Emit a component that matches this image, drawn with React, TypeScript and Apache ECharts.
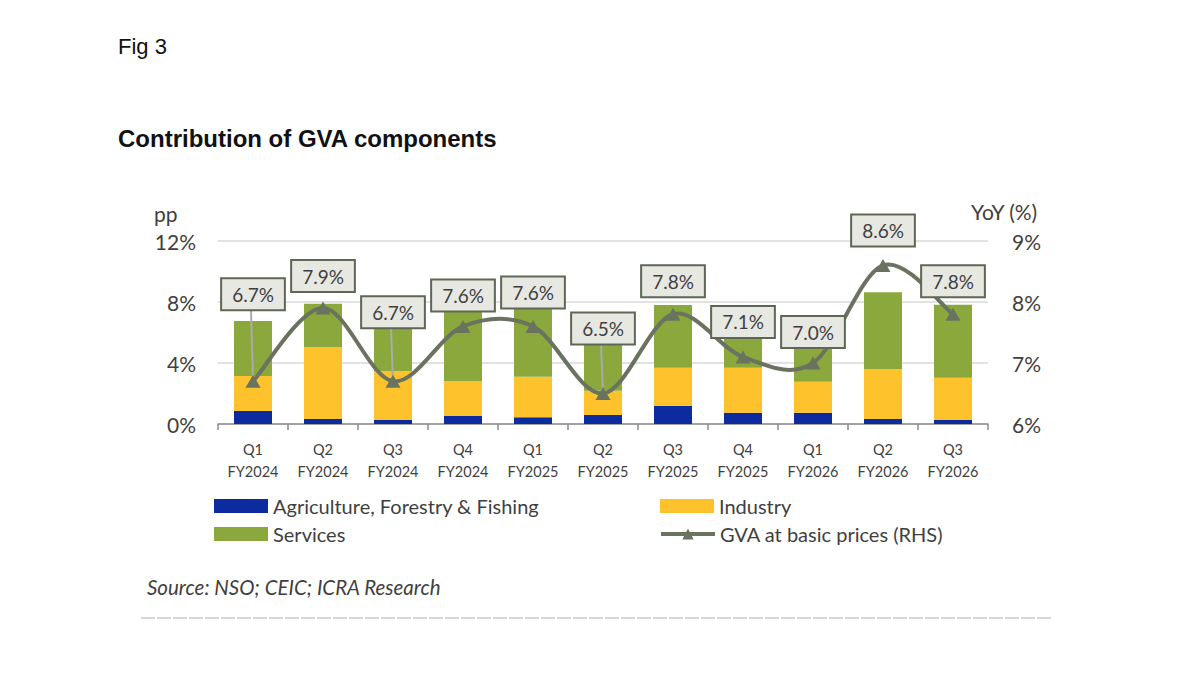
import React, { useEffect, useRef } from "react";
import * as echarts from "echarts";

// Quarters on the category axis
const categories = [
  "Q1\nFY2024", "Q2\nFY2024", "Q3\nFY2024", "Q4\nFY2024",
  "Q1\nFY2025", "Q2\nFY2025", "Q3\nFY2025", "Q4\nFY2025",
  "Q1\nFY2026", "Q2\nFY2026", "Q3\nFY2026",
];

// Contributions to GVA growth, percentage points
const agriculture = [0.85, 0.33, 0.26, 0.52, 0.44, 0.59, 1.2, 0.74, 0.74, 0.33, 0.26];
const industry = [2.3, 4.7, 3.22, 2.3, 2.66, 1.59, 2.49, 2.95, 2.03, 3.27, 2.78];
const services = [3.6, 2.86, 3.22, 4.78, 4.5, 4.32, 4.11, 3.41, 4.23, 5.04, 4.78];

// GVA at basic prices, YoY growth (%), right-hand axis
const gva = [6.7, 7.9, 6.7, 7.6, 7.6, 6.5, 7.8, 7.1, 7.0, 8.6, 7.8];

// Axis ticks
const leftTicks = { min: 0, max: 12, interval: 4 };
const rightTicks = { min: 6, max: 9, interval: 1 };

// How far each value callout sits above its point (px)
const calloutLift = [87, 32, 69, 31, 34, 65, 33, 35, 31, 35, 33];
const calloutHalfHeight = 16;

const SERIES_NAMES = {
  agri: "Agriculture, Forestry & Fishing",
  ind: "Industry",
  serv: "Services",
  gva: "GVA at basic prices (RHS)",
};

const COLORS = {
  agri: "#0b2b9e",
  ind: "#fec22c",
  serv: "#8aa83b",
  line: "#69735f",
  text: "#3f3f3f",
  grid: "#d9d9d9",
  axis: "#8c8c8c",
};

const CAL = "Lato, 'Noto Sans', sans-serif";
const ARIAL = "'Liberation Sans', Arial, sans-serif";

export default function App() {
  const ref = useRef<HTMLDivElement>(null);

  useEffect(() => {
    if (!ref.current) return;
    const chart = echarts.init(ref.current, undefined, { renderer: "svg" });

    const legendBase = {
      orient: "horizontal" as const,
      padding: 0,
      itemWidth: 54,
      itemHeight: 14,
      itemGap: 0,
      selectedMode: false,
      textStyle: { fontFamily: CAL, fontSize: 20, color: COLORS.text },
    };

    const n = gva.length;

    const option: any = {
      animation: false,
      backgroundColor: "#ffffff",
      title: [
        {
          text: "Fig 3",
          left: 113,
          top: 30,
          textStyle: { fontFamily: ARIAL, fontSize: 22, fontWeight: "normal", color: "#111111" },
        },
        {
          text: "Contribution of GVA components",
          left: 113,
          top: 121,
          textStyle: { fontFamily: ARIAL, fontSize: 24, fontWeight: "bold", color: "#111111" },
        },
      ],
      legend: [
        { ...legendBase, icon: "rect", data: [SERIES_NAMES.agri], left: 214, top: 496 },
        { ...legendBase, icon: "rect", data: [SERIES_NAMES.ind], left: 660, top: 496 },
        { ...legendBase, icon: "rect", data: [SERIES_NAMES.serv], left: 214, top: 524 },
        {
          ...legendBase,
          data: [
            {
              name: SERIES_NAMES.gva,
              lineStyle: { color: COLORS.line, width: 4, opacity: 1 },
              itemStyle: { color: COLORS.line },
            },
          ],
          left: 659,
          top: 524,
        },
      ],
      grid: { left: 218, right: 212, top: 241, bottom: 251, containLabel: false },
      xAxis: {
        type: "category",
        data: categories,
        boundaryGap: true,
        axisLine: { lineStyle: { color: COLORS.axis, width: 1.5 } },
        axisTick: { show: true, length: 6, lineStyle: { color: COLORS.axis, width: 1.5 } },
        axisLabel: {
          interval: 0,
          margin: 14,
          fontFamily: CAL,
          fontSize: 14.5,
          lineHeight: 22,
          color: COLORS.text,
        },
      },
      yAxis: [
        {
          type: "value",
          ...leftTicks,
          axisLine: { show: false },
          axisTick: { show: false },
          splitLine: { lineStyle: { color: COLORS.grid, width: 1.5 } },
          axisLabel: {
            formatter: "{value}%",
            margin: 22,
            fontFamily: CAL,
            fontSize: 21,
            color: COLORS.text,
          },
        },
        {
          type: "value",
          ...rightTicks,
          position: "right",
          axisLine: { show: false },
          axisTick: { show: false },
          splitLine: { show: false },
          axisLabel: {
            formatter: "{value}%",
            margin: 24,
            fontFamily: CAL,
            fontSize: 21,
            color: COLORS.text,
          },
        },
      ],
      graphic: [
        {
          type: "text",
          left: 154,
          top: 203,
          style: { text: "pp", fontFamily: CAL, fontSize: 21, fill: COLORS.text },
        },
        {
          type: "text",
          right: 162,
          top: 201,
          style: { text: "YoY (%)", fontFamily: CAL, fontSize: 21, fill: COLORS.text },
        },
        {
          type: "text",
          left: 147,
          top: 577,
          style: {
            text: "Source: NSO; CEIC; ICRA Research",
            fontFamily: CAL,
            fontStyle: "italic",
            fontSize: 20.5,
            fill: COLORS.text,
          },
        },
        {
          type: "line",
          shape: { x1: 141, y1: 618, x2: 1053, y2: 618 },
          style: { stroke: "#d6d6d6", lineWidth: 2, lineDash: [14, 2] },
        },
      ],
      series: [
        {
          name: SERIES_NAMES.agri,
          type: "bar",
          stack: "gva",
          barWidth: 38,
          itemStyle: { color: COLORS.agri },
          data: agriculture,
          z: 2,
        },
        {
          name: SERIES_NAMES.ind,
          type: "bar",
          stack: "gva",
          barWidth: 38,
          itemStyle: { color: COLORS.ind },
          data: industry,
          z: 2,
        },
        {
          name: SERIES_NAMES.serv,
          type: "bar",
          stack: "gva",
          barWidth: 38,
          itemStyle: { color: COLORS.serv },
          data: services,
          z: 2,
        },
        {
          // leader lines joining distant callouts to their points
          type: "custom",
          yAxisIndex: 1,
          silent: true,
          z: 3,
          data: gva.map((v, i) => [i, v]),
          renderItem: (params: any, api: any) => {
            const i = api.value(0);
            const p = api.coord([i, api.value(1)]);
            const bottom = p[1] - calloutLift[i] + calloutHalfHeight;
            if (p[1] - bottom < 25) return { type: "group", children: [] };
            return {
              type: "line",
              shape: { x1: p[0] - 2, y1: bottom, x2: p[0], y2: p[1] },
              style: { stroke: "#ababab", lineWidth: 2 },
            };
          },
        },
        {
          // spline through the GVA points (Catmull-Rom segments)
          type: "custom",
          yAxisIndex: 1,
          silent: true,
          z: 4,
          data: gva.map((v, i) => [i, v]),
          renderItem: (params: any, api: any) => {
            const i = api.value(0);
            if (i >= n - 1) return { type: "group", children: [] };
            const pt = (k: number) => {
              const j = Math.max(0, Math.min(n - 1, k));
              return api.coord([j, gva[j]]);
            };
            const p0 = pt(i - 1);
            const p1 = pt(i);
            const p2 = pt(i + 1);
            const p3 = pt(i + 2);
            return {
              type: "bezierCurve",
              shape: {
                x1: p1[0],
                y1: p1[1],
                x2: p2[0],
                y2: p2[1],
                cpx1: p1[0] + (p2[0] - p0[0]) / 6,
                cpy1: p1[1] + (p2[1] - p0[1]) / 6,
                cpx2: p2[0] - (p3[0] - p1[0]) / 6,
                cpy2: p2[1] - (p3[1] - p1[1]) / 6,
              },
              style: { stroke: COLORS.line, lineWidth: 4, fill: "none" },
            };
          },
        },
        {
          name: SERIES_NAMES.gva,
          type: "line",
          yAxisIndex: 1,
          symbol: "triangle",
          symbolSize: [15, 13],
          lineStyle: { color: COLORS.line, width: 4, opacity: 0 },
          itemStyle: { color: COLORS.line },
          z: 5,
          data: gva.map((v, i) => ({
            value: v,
            label: { offset: [0, -calloutLift[i]] },
          })),
          label: {
            show: true,
            position: "inside",
            formatter: (p: any) => `${Number(p.value).toFixed(1)}%`,
            fontFamily: CAL,
            fontSize: 19,
            lineHeight: 21,
            color: COLORS.text,
            backgroundColor: "#e8e8e3",
            borderColor: "#5e6755",
            borderWidth: 2,
            padding: [5, 10, 4, 10],
          },
        },
      ],
    };

    chart.setOption(option);
    return () => chart.dispose();
  }, []);

  return (
    <div
      ref={ref}
      style={{ position: "fixed", left: 0, top: 0, width: 1200, height: 675, background: "#fff" }}
    />
  );
}
